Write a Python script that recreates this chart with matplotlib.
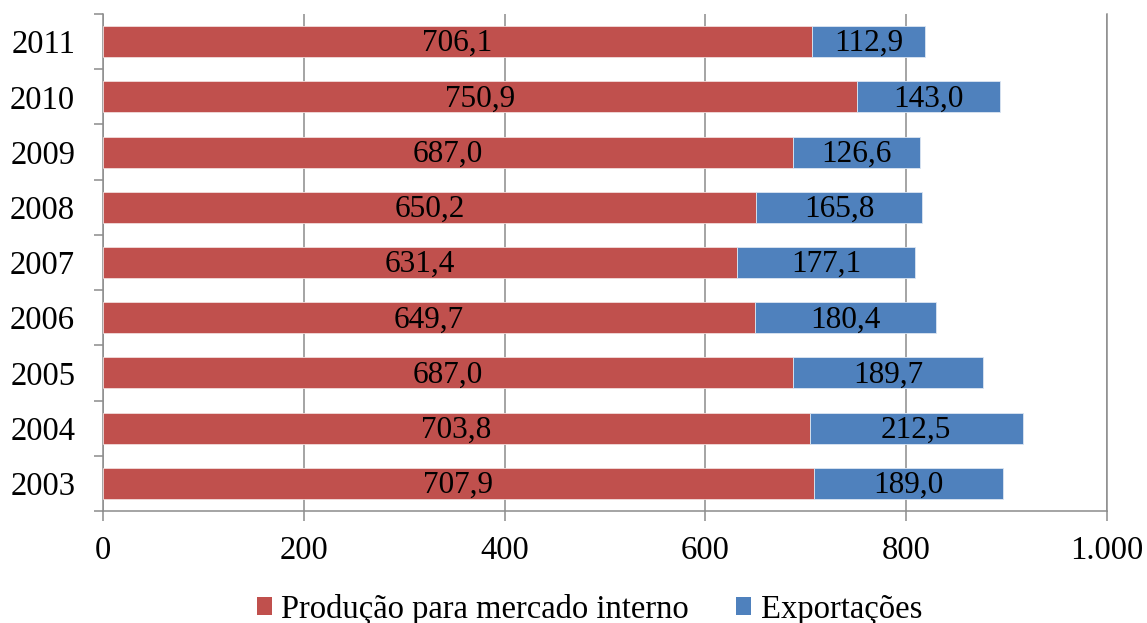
import matplotlib
matplotlib.use("Agg")
import matplotlib.pyplot as plt
import numpy as np
from matplotlib.patches import Patch

years = ["2003", "2004", "2005", "2006", "2007", "2008", "2009", "2010", "2011"]
mercado_interno = [707.9, 703.8, 687.0, 649.7, 631.4, 650.2, 687.0, 750.9, 706.1]
exportacoes = [189.0, 212.5, 189.7, 180.4, 177.1, 165.8, 126.6, 143.0, 112.9]
x_ticks = [0, 200, 400, 600, 800, 1000]
x_tick_labels = ["0", "200", "400", "600", "800", "1.000"]
series_names = ["Produção para mercado interno", "Exportações"]

RED = "#C0504D"
BLUE = "#4F81BD"
GRID = "#8C8C8C"

plt.rcParams["font.family"] = ["Liberation Serif", "DejaVu Serif"]

fig = plt.figure(figsize=(11.47, 6.23), dpi=100)
ax = fig.add_axes([103 / 1147, 1 - 511 / 623, (1107 - 103) / 1147, (511 - 14) / 623])

pos = np.arange(len(years))
h = 0.56
b1 = ax.barh(pos, mercado_interno, height=h, color=RED, edgecolor="#F2DCDB", linewidth=0.6, zorder=3)
b2 = ax.barh(pos, exportacoes, left=mercado_interno, height=h, color=BLUE,
             edgecolor="#DCE6F2", linewidth=0.6, zorder=3)

def fmt(v):
    return f"{v:.1f}".replace(".", ",")

for bars, vals, lefts in ((b1, mercado_interno, [0] * len(years)), (b2, exportacoes, mercado_interno)):
    for p, v, l in zip(pos, vals, lefts):
        ax.text(l + v / 2, p - 0.04, fmt(v), ha="center", va="center", fontsize=22.5,
                color="black", zorder=4)

ax.set_xlim(0, 1000)
ax.set_ylim(-0.5, len(years) - 0.5)
ax.set_xticks(x_ticks)
ax.set_xticklabels(x_tick_labels, fontsize=23.5)
ax.set_yticks(pos)
ax.set_yticklabels(years, fontsize=23.5)
ax.set_yticks(np.arange(-0.5, len(years)), minor=True)

ax.tick_params(axis="x", which="major", length=7, width=1.1, color=GRID, pad=10.5, direction="out")
ax.tick_params(axis="y", which="major", length=0, pad=20)
ax.tick_params(axis="y", which="minor", length=6.5, width=1.1, color=GRID, direction="out")

ax.grid(axis="x", color=GRID, linewidth=1.1, zorder=0)
ax.set_axisbelow(True)
ax.spines["top"].set_visible(False)
for side in ("left", "bottom", "right"):
    ax.spines[side].set_color(GRID)
    ax.spines[side].set_linewidth(1.1)

handles = [Patch(facecolor=RED), Patch(facecolor=BLUE)]
fig.legend(handles, series_names, loc="lower center", bbox_to_anchor=(0.514, -0.05), ncol=2,
           frameon=False, fontsize=23.5, handlelength=0.45, handleheight=0.45, handletextpad=0.3,
           columnspacing=1.45)

fig.savefig("out.png", dpi=100)
